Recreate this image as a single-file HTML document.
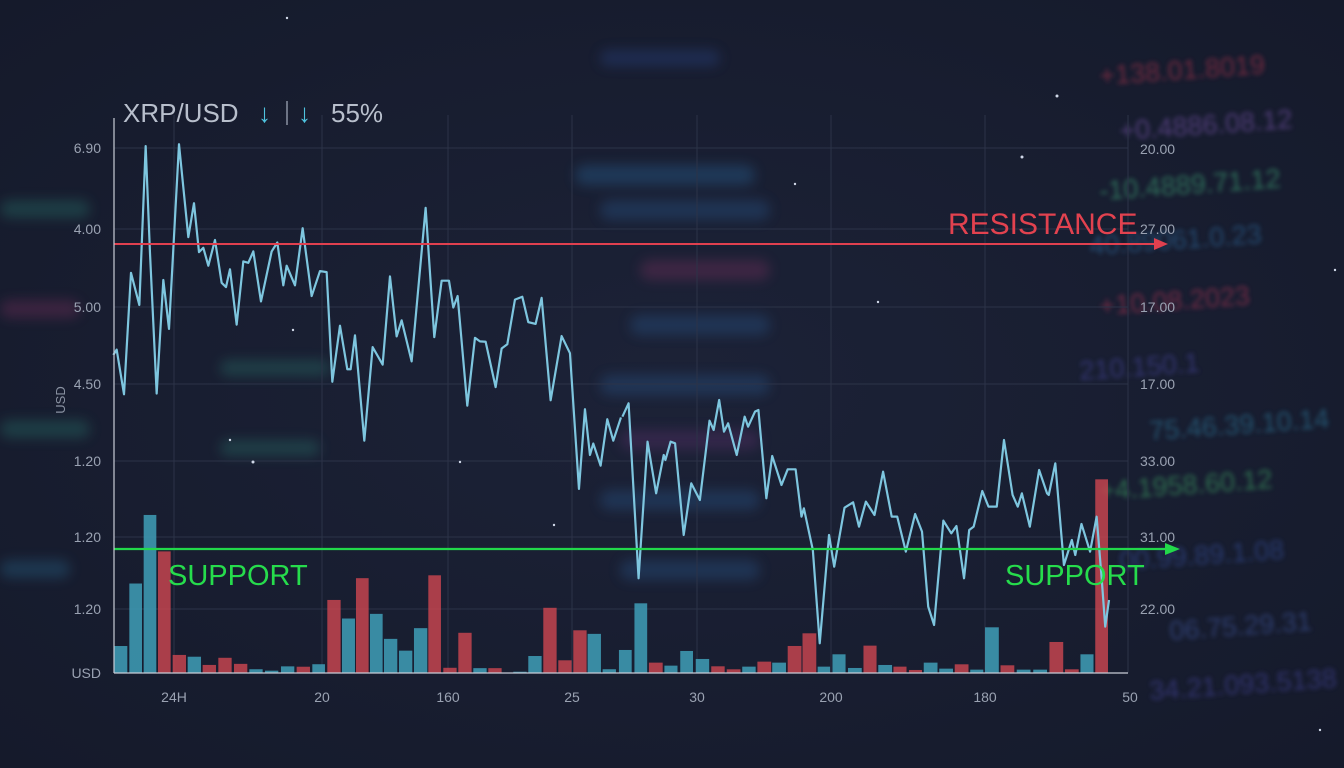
<!DOCTYPE html>
<html><head><meta charset="utf-8"><style>
html,body{margin:0;padding:0;background:#1a1f33;width:1344px;height:768px;overflow:hidden}
svg{display:block}
</style></head><body>
<svg width="1344" height="768" viewBox="0 0 1344 768" xmlns="http://www.w3.org/2000/svg" font-family="Liberation Sans, sans-serif">
<defs>
<radialGradient id="bg" cx="50%" cy="50%" r="70%"><stop offset="0" stop-color="#1c2237"/><stop offset="1" stop-color="#151a2b"/></radialGradient>
<filter id="bl" x="-20%" y="-50%" width="140%" height="200%"><feGaussianBlur stdDeviation="2.5"/></filter>
<filter id="bl2" x="-20%" y="-50%" width="140%" height="200%"><feGaussianBlur stdDeviation="6"/></filter>
</defs>
<rect width="1344" height="768" fill="url(#bg)"/>
<g filter="url(#bl)" font-size="27" opacity="0.65">
<text x="1100" y="85" fill="#a0304a" transform="rotate(-4 1100 85)">+138.01.8019</text>
<text x="1120" y="140" fill="#7050a0" transform="rotate(-4 1120 140)">+0.4886.08.12</text>
<text x="1100" y="200" fill="#3a9a70" transform="rotate(-4 1100 200)">-10.4889.71.12</text>
<text x="1090" y="255" fill="#2a6090" transform="rotate(-4 1090 255)">40.89061.0.23</text>
<text x="1100" y="315" fill="#a03050" transform="rotate(-4 1100 315)">+10.08.2023</text>
<text x="1080" y="380" fill="#404090" transform="rotate(-4 1080 380)">210.150.1</text>
<text x="1150" y="440" fill="#2a7090" transform="rotate(-4 1150 440)">75.46.39.10.14</text>
<text x="1100" y="500" fill="#3a9a60" transform="rotate(-4 1100 500)">+4.1958.60.12</text>
<text x="1120" y="570" fill="#304a90" transform="rotate(-4 1120 570)">00.99.89.1.08</text>
<text x="1170" y="640" fill="#3a5090" transform="rotate(-4 1170 640)">06.75.29.31</text>
<text x="1150" y="700" fill="#404090" transform="rotate(-4 1150 700)">34.21.093.5138</text>
</g>
<g filter="url(#bl2)" opacity="0.35">
<rect x="575" y="165" width="180" height="20" rx="10" fill="#2a6aa0"/>
<rect x="600" y="200" width="170" height="20" rx="10" fill="#2a5a90"/>
<rect x="640" y="260" width="130" height="20" rx="10" fill="#803060"/>
<rect x="630" y="315" width="140" height="20" rx="10" fill="#2a5a90"/>
<rect x="600" y="375" width="170" height="20" rx="10" fill="#2a5a90"/>
<rect x="620" y="430" width="140" height="20" rx="10" fill="#603070"/>
<rect x="600" y="490" width="160" height="20" rx="10" fill="#2a5a90"/>
<rect x="620" y="560" width="140" height="20" rx="10" fill="#2a5a90"/>
<rect x="0" y="200" width="90" height="18" rx="9" fill="#2a7a70"/>
<rect x="0" y="300" width="80" height="18" rx="9" fill="#803060"/>
<rect x="0" y="420" width="90" height="18" rx="9" fill="#2a7a70"/>
<rect x="0" y="560" width="70" height="18" rx="9" fill="#2a6a90"/>
<rect x="220" y="360" width="110" height="16" rx="8" fill="#2a7a70"/>
<rect x="220" y="440" width="100" height="16" rx="8" fill="#2a7a70"/>
<rect x="600" y="50" width="120" height="16" rx="8" fill="#2a4a90"/>
</g>
<g stroke="#2c3348" stroke-width="1">
<line x1="114" y1="148" x2="1128" y2="148"/><line x1="114" y1="229" x2="1128" y2="229"/>
<line x1="114" y1="307" x2="1128" y2="307"/><line x1="114" y1="384" x2="1128" y2="384"/>
<line x1="114" y1="461" x2="1128" y2="461"/><line x1="114" y1="537" x2="1128" y2="537"/>
<line x1="114" y1="609" x2="1128" y2="609"/>
<line x1="174" y1="115" x2="174" y2="673"/><line x1="322" y1="115" x2="322" y2="673"/>
<line x1="448" y1="115" x2="448" y2="673"/><line x1="572" y1="115" x2="572" y2="673"/>
<line x1="697" y1="115" x2="697" y2="673"/><line x1="831" y1="115" x2="831" y2="673"/>
<line x1="985" y1="115" x2="985" y2="673"/><line x1="1128" y1="115" x2="1128" y2="673"/>
</g>
<g transform="translate(100,130) scale(0.3333,0.3571)" opacity="0.85">
<g fill="#3f9fb8">
<rect x="42" y="1445" width="40" height="75"/><rect x="88" y="1270" width="38" height="250"/><rect x="131" y="1078" width="38" height="442"/>
<rect x="263" y="1475" width="40" height="45"/><rect x="448" y="1510" width="40" height="10"/><rect x="495" y="1514" width="40" height="6"/>
<rect x="543" y="1502" width="40" height="18"/><rect x="637" y="1496" width="38" height="24"/><rect x="726" y="1368" width="39" height="152"/>
<rect x="810" y="1355" width="38" height="165"/><rect x="852" y="1425" width="40" height="95"/><rect x="897" y="1458" width="40" height="62"/>
<rect x="942" y="1395" width="40" height="125"/><rect x="1120" y="1507" width="40" height="13"/><rect x="1240" y="1517" width="40" height="3"/>
<rect x="1285" y="1473" width="40" height="47"/><rect x="1463" y="1411" width="40" height="109"/><rect x="1508" y="1510" width="40" height="10"/>
</g>
<g fill="#c4444f">
<rect x="174" y="1180" width="38" height="340"/><rect x="218" y="1470" width="40" height="50"/><rect x="308" y="1498" width="40" height="22"/>
<rect x="355" y="1478" width="40" height="42"/><rect x="402" y="1495" width="40" height="25"/><rect x="590" y="1503" width="40" height="17"/>
<rect x="682" y="1316" width="40" height="204"/><rect x="768" y="1255" width="38" height="265"/><rect x="985" y="1247" width="38" height="273"/>
<rect x="1030" y="1506" width="40" height="14"/><rect x="1075" y="1408" width="40" height="112"/><rect x="1165" y="1507" width="40" height="13"/>
<rect x="1330" y="1338" width="40" height="182"/><rect x="1375" y="1485" width="40" height="35"/><rect x="1420" y="1401" width="40" height="119"/>
</g>
</g>
<g transform="translate(600,380) scale(0.3444,0.3333)" opacity="0.85">
<g fill="#3f9fb8">
<rect x="55" y="810" width="37" height="70"/><rect x="100" y="670" width="37" height="210"/><rect x="187" y="857" width="38" height="23"/>
<rect x="233" y="813" width="37" height="67"/><rect x="278" y="837" width="39" height="43"/><rect x="413" y="860" width="39" height="20"/>
<rect x="500" y="848" width="40" height="32"/><rect x="632" y="860" width="36" height="20"/><rect x="675" y="823" width="38" height="57"/>
<rect x="720" y="864" width="40" height="16"/><rect x="808" y="855" width="40" height="25"/><rect x="940" y="848" width="40" height="32"/>
<rect x="985" y="866" width="40" height="14"/><rect x="1075" y="869" width="38" height="11"/><rect x="1118" y="742" width="40" height="138"/>
<rect x="1210" y="869" width="40" height="11"/><rect x="1258" y="869" width="40" height="11"/><rect x="1395" y="823" width="38" height="57"/>
</g>
<g fill="#c4444f">
<rect x="142" y="848" width="40" height="32"/><rect x="323" y="859" width="39" height="21"/><rect x="368" y="868" width="40" height="12"/>
<rect x="457" y="845" width="40" height="35"/><rect x="545" y="798" width="40" height="82"/><rect x="588" y="760" width="40" height="120"/>
<rect x="765" y="797" width="38" height="83"/><rect x="852" y="860" width="38" height="20"/><rect x="897" y="870" width="38" height="10"/>
<rect x="1030" y="853" width="40" height="27"/><rect x="1163" y="856" width="40" height="24"/><rect x="1305" y="786" width="40" height="94"/>
<rect x="1350" y="868" width="40" height="12"/><rect x="1438" y="298" width="37" height="582"/>
</g>
</g>
<g fill="none" stroke="#7ec6df" stroke-width="2.2" stroke-linejoin="round">
<polyline vector-effect="non-scaling-stroke" transform="translate(100,130) scale(0.3333,0.3571)" points="40,630 50,615 72,740 93,400 118,490 137,45 150,345 170,738 190,420 207,557 237,40 265,300 282,205 297,342 310,330 325,380 345,308 365,428 378,440 390,390 410,545 430,368 445,372 460,340 483,480 515,340 532,315 550,435 560,380 585,435 608,275 635,465 660,395 680,398 697,705 720,548 742,670 752,670 765,575 793,870 818,608 848,657 870,410 890,578 905,533 935,648 977,218 1003,580 1025,422 1047,422 1060,497 1073,465 1102,772 1125,582 1140,592 1157,593 1187,720 1205,612 1222,600 1245,475 1267,467 1285,538 1307,543 1325,470 1352,757 1385,577 1410,625 1437,1005 1455,782 1470,910 1480,878 1502,940 1522,810 1540,870 1563,805"/>
<polyline vector-effect="non-scaling-stroke" transform="translate(600,380) scale(0.3444,0.3333)" points="65,110 83,70 112,595 138,185 163,340 185,225 190,240 205,185 218,190 243,465 265,310 290,360 318,122 330,150 346,60 360,155 372,130 397,225 420,110 430,140 450,95 460,90 483,355 500,228 527,315 545,268 568,268 585,410 592,385 618,510 638,790 665,465 680,560 710,383 735,367 752,440 772,365 797,405 822,275 847,410 863,410 888,515 915,402 935,455 953,680 970,735 997,422 1020,460 1035,438 1057,595 1072,450 1085,440 1110,333 1128,380 1152,380 1173,180 1198,345 1213,380 1225,340 1248,440 1275,270 1298,340 1303,345 1322,250 1347,555 1370,480 1380,525 1398,432 1423,515 1442,410 1457,600 1467,740 1478,660"/>
</g>
<line x1="114" y1="244" x2="1156" y2="244" stroke="#e0404f" stroke-width="2"/>
<polygon points="1154,238 1168,244 1154,250" fill="#e0404f"/>
<line x1="114" y1="549" x2="1166" y2="549" stroke="#22d84a" stroke-width="2.2"/>
<polygon points="1165,543 1180,549 1165,555" fill="#22d84a"/>
<text x="948" y="234" font-size="30" fill="#e2424f">RESISTANCE</text>
<text x="168" y="585" font-size="29" fill="#26dc4c">SUPPORT</text>
<text x="1005" y="585" font-size="29" fill="#26dc4c">SUPPORT</text>
<line x1="114" y1="118" x2="114" y2="673" stroke="#c8ccd6" stroke-width="1.2"/>
<line x1="114" y1="673" x2="1128" y2="673" stroke="#c8ccd6" stroke-width="1.2"/>
<g font-size="14" fill="#9aa2b2" text-anchor="end">
<text x="101" y="153">6.90</text><text x="101" y="234">4.00</text><text x="101" y="312">5.00</text>
<text x="101" y="389">4.50</text><text x="101" y="466">1.20</text><text x="101" y="542">1.20</text>
<text x="101" y="614">1.20</text><text x="101" y="678">USD</text>
</g>
<g font-size="14" fill="#9aa2b2">
<text x="1140" y="154">20.00</text><text x="1140" y="234">27.00</text><text x="1140" y="312">17.00</text>
<text x="1140" y="389">17.00</text><text x="1140" y="466">33.00</text><text x="1140" y="542">31.00</text>
<text x="1140" y="614">22.00</text>
</g>
<g font-size="14" fill="#9aa2b2" text-anchor="middle">
<text x="174" y="702">24H</text><text x="322" y="702">20</text><text x="448" y="702">160</text>
<text x="572" y="702">25</text><text x="697" y="702">30</text><text x="831" y="702">200</text>
<text x="985" y="702">180</text><text x="1130" y="702">50</text>
</g>
<text x="65" y="400" font-size="13" fill="#8a92a2" text-anchor="middle" transform="rotate(-90 65 400)">USD</text>
<text x="123" y="122" font-size="26" fill="#b8bfcc">XRP/USD</text>
<text x="258" y="122" font-size="26" fill="#4fc3df" font-weight="bold">↓</text>
<line x1="287" y1="101" x2="287" y2="125" stroke="#8a92a2" stroke-width="1.5"/>
<text x="298" y="122" font-size="26" fill="#4fc3df" font-weight="bold">↓</text>
<text x="331" y="122" font-size="26" fill="#b8bfcc">55%</text>
<g fill="#d0d8e8">
<circle cx="287" cy="18" r="1.2"/><circle cx="1057" cy="96" r="1.5"/><circle cx="1022" cy="157" r="1.5"/>
<circle cx="795" cy="184" r="1.2"/><circle cx="878" cy="302" r="1.2"/><circle cx="293" cy="330" r="1.2"/>
<circle cx="230" cy="440" r="1.2"/><circle cx="253" cy="462" r="1.5"/><circle cx="460" cy="462" r="1.2"/>
<circle cx="554" cy="525" r="1.2"/><circle cx="1335" cy="270" r="1.2"/><circle cx="1320" cy="730" r="1.2"/>
</g>
</svg>
</body></html>
